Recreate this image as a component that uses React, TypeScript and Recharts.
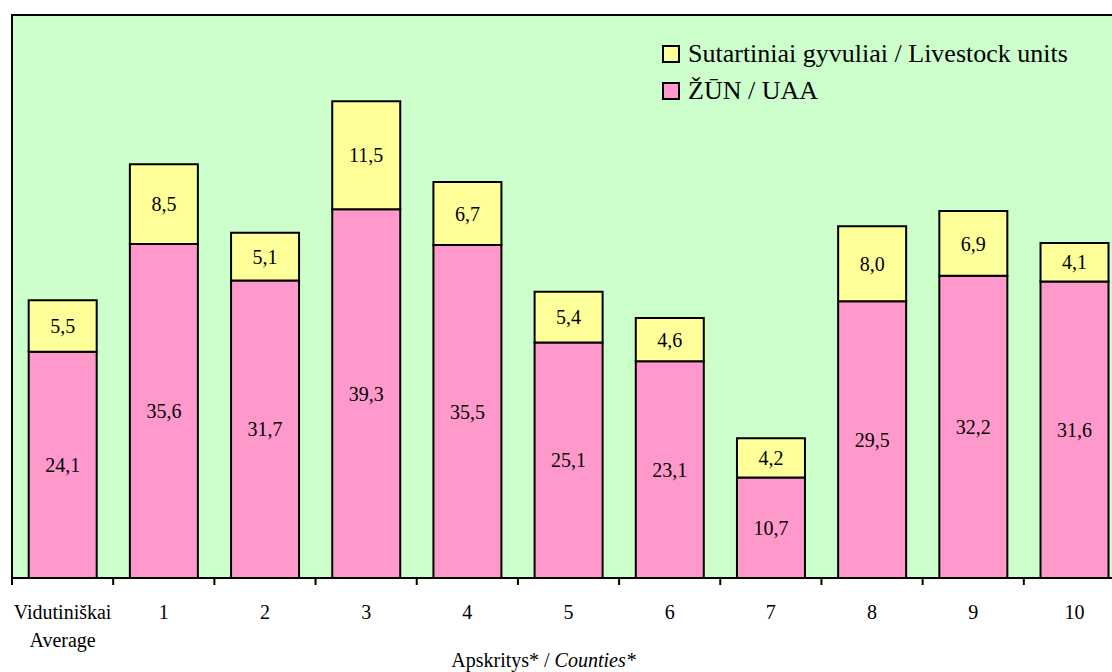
import React from 'react';
import { BarChart, Bar, XAxis, YAxis, CartesianGrid, Legend, LabelList, ReferenceArea } from 'recharts';

const categories = ['Vidutiniškai\nAverage', '1', '2', '3', '4', '5', '6', '7', '8', '9', '10'];
const uaaValues = [24.1, 35.6, 31.7, 39.3, 35.5, 25.1, 23.1, 10.7, 29.5, 32.2, 31.6];
const livestockValues = [5.5, 8.5, 5.1, 11.5, 6.7, 5.4, 4.6, 4.2, 8.0, 6.9, 4.1];
const seriesNames = { uaa: 'ŽŪN / UAA', lu: 'Sutartiniai gyvuliai / Livestock units' };
const legendOrder = ['lu', 'uaa'];
const axisTitle = { lt: 'Apskritys* / ', en: 'Counties*' };

const data = categories.map((c, i) => ({ cat: c, uaa: uaaValues[i], lu: livestockValues[i] }));

const FONT = '"Liberation Serif", "Times New Roman", Times, "DejaVu Serif", serif';
const fmt = (v: any) => (typeof v === 'number' ? v.toFixed(1).replace('.', ',') : v);

const CatTick = (props: any) => {
  const { x, y, payload } = props;
  const half = payload && typeof payload.offset === 'number' ? payload.offset : 0;
  const lines = String(payload.value).split('\n');
  return (
    <g>
      <line x1={x - half} x2={x - half} y1={y - 6} y2={y + 1} stroke="#000" strokeWidth={2} />
      <text x={x} y={y + 35} textAnchor="middle" fontSize={20} fill="#000" style={{ fontFamily: FONT }}>
        {lines.map((l, i) => (
          <tspan key={i} x={x} dy={i === 0 ? 0 : 28}>{l}</tspan>
        ))}
      </text>
    </g>
  );
};

const AxisTitle = (props: any) => {
  const vb = props.viewBox || { x: 0, y: 0, width: 0, height: 0 };
  const cx = vb.x + vb.width / 2 - 25;
  return (
    <text x={cx} y={vb.y + 89} textAnchor="middle" fontSize={20} fill="#000" style={{ fontFamily: FONT }}>
      <tspan>{axisTitle.lt}</tspan>
      <tspan fontStyle="italic">{axisTitle.en}</tspan>
    </text>
  );
};

const LegendContent = (props: any) => {
  const payload = props.payload || [];
  const items = legendOrder
    .map((k) => payload.find((p: any) => p.dataKey === k))
    .filter(Boolean);
  return (
    <div style={{ fontFamily: FONT, fontSize: 26, color: '#000' }}>
      {items.map((it: any, i: number) => (
        <div key={i} style={{ display: 'flex', alignItems: 'center', height: 37 }}>
          <span
            style={{
              display: 'inline-block',
              width: 14,
              height: 14,
              border: '2px solid #000',
              background: it.color,
              marginRight: 8,
            }}
          />
          <span>{it.value}</span>
        </div>
      ))}
    </div>
  );
};

export default function App() {
  return (
    <div style={{ position: 'absolute', left: 0, top: 0, width: 1112, height: 672, overflow: 'hidden', background: '#fff', fontFamily: FONT }}>
      <BarChart
        width={1130}
        height={672}
        data={data}
        margin={{ top: 15, right: 5, left: 12, bottom: 14 }}
        barCategoryGap="16.5%"
        style={{ fontFamily: FONT }}
      >
        <CartesianGrid horizontal={false} vertical={false} fill="#CCFFCC" fillOpacity={1} />
        <ReferenceArea y1={0} y2={60} fill="none" fillOpacity={0} stroke="#000" strokeWidth={2} ifOverflow="visible" />
        <XAxis
          dataKey="cat"
          interval={0}
          height={80}
          tickLine={false}
          tickSize={6}
          tickMargin={0}
          axisLine={{ stroke: '#000', strokeWidth: 2 }}
          tick={<CatTick />}
          label={<AxisTitle />}
        />
        <YAxis domain={[0, 60]} width={0} tick={false} tickLine={false} axisLine={false} />
        <Legend
          layout="vertical"
          align="center"
          verticalAlign="middle"
          wrapperStyle={{ left: 662, top: 35, width: 450 }}
          content={<LegendContent />}
        />
        <Bar dataKey="uaa" name={seriesNames.uaa} stackId="a" fill="#FF99CC" stroke="#000" strokeWidth={2} isAnimationActive={false}>
          <LabelList dataKey="uaa" position="center" formatter={fmt} fill="#000" fontSize={20} style={{ fontFamily: FONT }} />
        </Bar>
        <Bar dataKey="lu" name={seriesNames.lu} stackId="a" fill="#FFFF99" stroke="#000" strokeWidth={2} isAnimationActive={false}>
          <LabelList dataKey="lu" position="center" formatter={fmt} fill="#000" fontSize={20} style={{ fontFamily: FONT }} />
        </Bar>
      </BarChart>
    </div>
  );
}
